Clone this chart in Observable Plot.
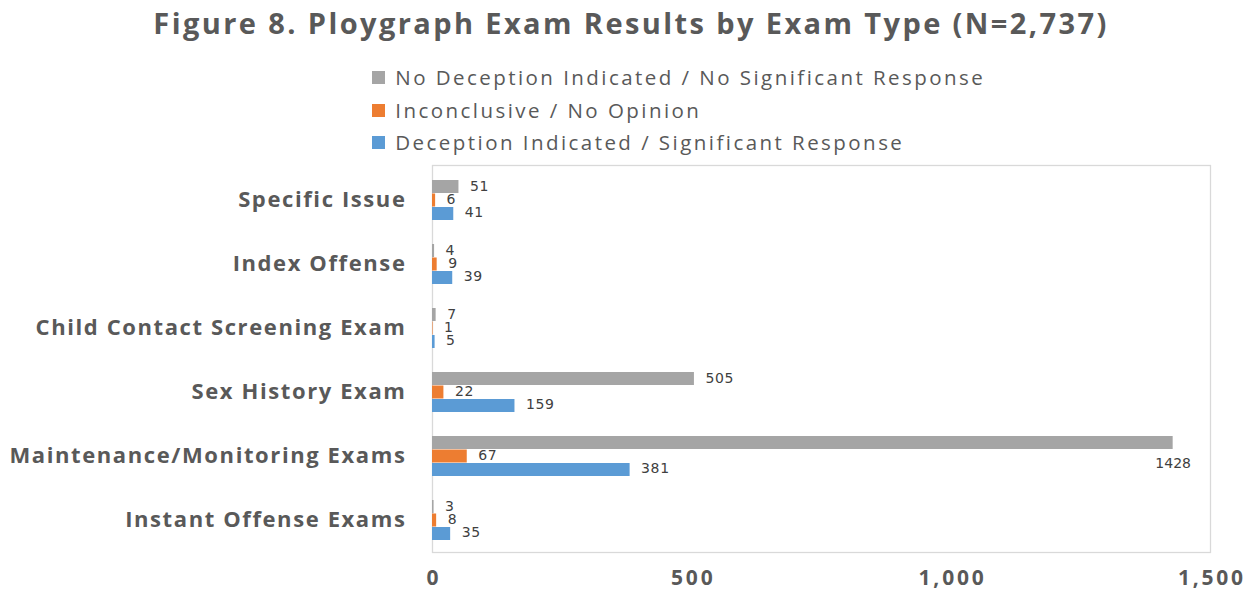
<!DOCTYPE html>
<html>
<head>
<meta charset="utf-8">
<script src="https://cdn.jsdelivr.net/npm/d3@7"></script>
<script src="https://cdn.jsdelivr.net/npm/@observablehq/plot@0.6"></script>
<style>
  html, body { margin: 0; padding: 0; background: #fff; }
  body { position: relative; width: 1250px; height: 591px; overflow: hidden; }
  #title { position: absolute; left: 6px; top: 0; width: 1250px; text-align: center;
    font: bold 29px "Open Sans", sans-serif; color: #595959; line-height: 46px; letter-spacing: 2.4px; }
  #legend { position: absolute; left: 372px; top: 62px; width: 820px; }
  #chart { position: absolute; left: 0; top: 157px; }
  #chart g[aria-label="y-axis tick label"] { letter-spacing: 1.6px; }
  #chart g[aria-label="x-axis tick label"] { letter-spacing: 2.8px; }
  #chart g.vlabel { letter-spacing: 0.6px; }
</style>
</head>
<body>
<div id="title">Figure 8. Ploygraph Exam Results by Exam Type (N=2,737)</div>
<div id="legend"></div>
<div id="chart"></div>
<script>
const categories = ["Specific Issue", "Index Offense", "Child Contact Screening Exam", "Sex History Exam", "Maintenance/Monitoring Exams", "Instant Offense Exams"];
const series = ["No Deception Indicated / No Significant Response", "Inconclusive / No Opinion", "Deception Indicated / Significant Response"];
const noDeception = [51, 4, 7, 505, 1428, 3];
const inconclusive = [6, 9, 1, 22, 67, 8];
const deception = [41, 39, 5, 159, 381, 35];
const xTicks = [0, 500, 1000, 1500];
const colors = ["#a5a5a5", "#ed7d31", "#5b9bd5"];

const valuesBySeries = [noDeception, inconclusive, deception];
const rows = [];
series.forEach((s, si) => categories.forEach((c, ci) => rows.push({category: c, series: s, value: valuesBySeries[si][ci]})));

// vertical placement of each series within a category band (band = 64.5px)
const slot = [
  {insetTop: 13, insetBottom: 38, dy: -12.5},
  {insetTop: 26.5, insetBottom: 24.5, dy: 0.5},
  {insetTop: 40, insetBottom: 11, dy: 13.5}
];

const marks = [Plot.frame({stroke: "#d9d9d9", strokeWidth: 1.3})];
series.forEach((s, si) => {
  const data = rows.filter(d => d.series === s);
  marks.push(Plot.barX(data, {
    x: "value", y: "category", fill: colors[si],
    insetTop: slot[si].insetTop, insetBottom: slot[si].insetBottom
  }));
  marks.push(Plot.text(data.filter(d => d.value <= 1300), {
    x: "value", y: "category", text: d => String(d.value),
    dx: 11, dy: slot[si].dy, textAnchor: "start", fill: "#404040",
    fontSize: 14, fontFamily: "DejaVu Sans", className: "vlabel"
  }));
  marks.push(Plot.text(data.filter(d => d.value > 1300), {
    x: "value", y: "category", text: d => String(d.value),
    dx: 0, dy: 20.5 + slot[si].dy, textAnchor: "middle", fill: "#404040",
    fontSize: 14, fontFamily: "DejaVu Sans"
  }));
});

const chart = Plot.plot({
  width: 1250,
  height: 434,
  marginTop: 8,
  marginBottom: 39,
  marginLeft: 432,
  marginRight: 40,
  style: {fontFamily: "Open Sans", background: "#fff"},
  x: {domain: [0, 1500], ticks: xTicks, tickFormat: d3.format(","), tickSize: 0, tickPadding: 18, label: null},
  y: {domain: categories, padding: 0, tickSize: 0, tickPadding: 28, label: null},
  marks: [
    ...marks,
    Plot.axisX({ticks: xTicks, tickFormat: d3.format(","), tickSize: 0, tickPadding: 18, fontSize: 21, fontWeight: "bold", fill: "#595959", label: null, dx: 1.4}),
    Plot.axisY({tickSize: 0, tickPadding: 26, fontSize: 22, fontWeight: "bold", fill: "#595959", label: null})
  ]
});
document.getElementById("chart").appendChild(chart);

const legend = Plot.legend({
  color: {domain: series, range: colors},
  legend: "swatches",
  columns: 1,
  swatchSize: 13,
  style: {fontFamily: "Open Sans", fontSize: "20.5px", color: "#595959", lineHeight: "31.5px", letterSpacing: "2.45px"}
});
document.getElementById("legend").appendChild(legend);
</script>
</body>
</html>
